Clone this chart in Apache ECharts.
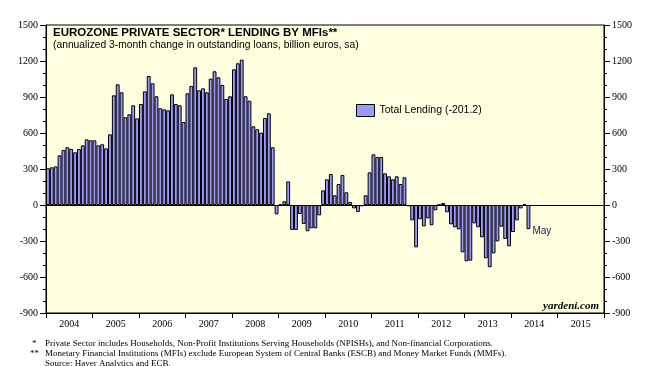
<!DOCTYPE html>
<html>
<head>
<meta charset="utf-8">
<script src="https://cdn.jsdelivr.net/npm/echarts@6/dist/echarts.min.js"></script>
<style>
html,body{margin:0;padding:0;background:#fff;}
#chart{width:656px;height:366px;}
</style>
</head>
<body>
<div id="chart"></div>
<script>
// Year labels on the x axis
var yearLabels = ['2004','2005','2006','2007','2008','2009','2010','2011','2012','2013','2014','2015'];
// Annualized 3-month change in outstanding loans (billion euros), monthly
var lending2004 = [306, 314, 322, 414, 458, 481, 467, 439, 467, 497, 547, 539];
var lending2005 = [539, 497, 506, 472, 589, 914, 1006, 939, 731, 756, 831, 722];
var lending2006 = [842, 947, 1075, 1014, 906, 806, 797, 789, 922, 842, 831, 692];
var lending2007 = [931, 992, 1147, 956, 972, 939, 1053, 1114, 1064, 1000, 883, 906];
var lending2008 = [1131, 1181, 1211, 906, 869, 656, 631, 603, 725, 764, 481, -78];
var lending2009 = [8, 31, 197, -208, -208, -75, -158, -219, -194, -194, -86, 122];
var lending2010 = [214, 258, 81, 175, 250, 106, 25, -28, -58, -11, 81, 272];
var lending2011 = [422, 400, 400, 264, 239, 214, 239, 175, 231, -11, -128, -353];
var lending2012 = [-119, -178, -111, -169, -44, 2, 17, -61, -161, -186, -203, -394];
var lending2013 = [-469, -464, -153, -186, -269, -444, -519, -403, -303, -181, -283, -344];
var lending2014 = [-225, -128, -28, 8, -201.2];
var yTicks = {min: -900, max: 1500, interval: 300};
var seriesName = 'Total Lending (-201.2)';
var lastLabel = 'May';

var values = [].concat(lending2004, lending2005, lending2006, lending2007, lending2008,
  lending2009, lending2010, lending2011, lending2012, lending2013, lending2014);
var months = [];
yearLabels.forEach(function (y) {
  for (var m = 1; m <= 12; m++) months.push(y + '-' + (m < 10 ? '0' + m : m));
});
var lastIdx = values.length - 1;

var serif = '"Liberation Serif", "DejaVu Serif", serif';
var sans = '"Liberation Sans", Arial, sans-serif';

var chart = echarts.init(document.getElementById('chart'), null, {renderer: 'canvas'});
var yAxisCommon = {
  type: 'value', min: yTicks.min, max: yTicks.max, interval: yTicks.interval,
  axisLine: {show: true, lineStyle: {color: '#000', width: 1}},
  axisTick: {show: true, inside: false, length: 6, lineStyle: {color: '#000', width: 1}},
  minorTick: {show: true, splitNumber: 3, length: 3, lineStyle: {color: '#000', width: 1}},
  splitLine: {show: false},
  axisLabel: {color: '#000', fontFamily: serif, fontSize: 10, margin: 8,
              formatter: function (v) { return String(v); }}
};
chart.setOption({
  animation: false,
  backgroundColor: '#ffffff',
  grid: {left: 46, right: 52, top: 25, bottom: 53, show: true, backgroundColor: '#FFFFE0', borderColor: '#000', borderWidth: 1},
  legend: {
    show: true, left: 356, top: 104, padding: 0, itemWidth: 18, itemHeight: 12, itemGap: 6,
    icon: 'rect',
    textStyle: {color: '#000', fontFamily: sans, fontSize: 10.5},
    data: [{name: seriesName, itemStyle: {color: '#9999FF', borderColor: '#000', borderWidth: 1}}]
  },
  xAxis: [
    {type: 'category', data: months, position: 'bottom', boundaryGap: true,
     axisLine: {show: false}, axisTick: {show: false}, axisLabel: {show: false}, splitLine: {show: false}},
    {type: 'category', data: yearLabels, position: 'bottom', boundaryGap: true,
     axisLine: {show: true, onZero: false, lineStyle: {color: '#000'}},
     axisTick: {show: true, inside: false, length: 5, alignWithLabel: false, lineStyle: {color: '#000'}},
     axisLabel: {color: '#000', fontFamily: serif, fontSize: 10, margin: 6},
     splitLine: {show: false}}
  ],
  yAxis: [
    Object.assign({position: 'left'}, yAxisCommon),
    Object.assign({position: 'right'}, yAxisCommon)
  ],
  graphic: [
    {type: 'text', left: 53, top: 27, style: {text: 'EUROZONE PRIVATE SECTOR* LENDING BY MFIs**', fill: '#000', font: 'bold 11.5px ' + sans}},
    {type: 'text', left: 53, top: 40, style: {text: '(annualized 3-month change in outstanding loans, billion euros, sa)', fill: '#000', font: '10.3px ' + sans}},
    {type: 'text', right: 57, top: 301, style: {text: 'yardeni.com', fill: '#000', font: 'italic bold 11px ' + serif}},
    {type: 'text', left: 32, top: 339, style: {text: '*', fill: '#000', font: '9px ' + serif}},
    {type: 'text', left: 45, top: 339, style: {text: 'Private Sector includes Households, Non-Profit Institutions Serving Households (NPISHs), and Non-financial Corporations.', fill: '#000', font: '9px ' + serif}},
    {type: 'text', left: 30, top: 349, style: {text: '**', fill: '#000', font: '9px ' + serif}},
    {type: 'text', left: 45, top: 349, style: {text: 'Monetary Financial Institutions (MFIs) exclude European System of Central Banks (ESCB) and Money Market Funds (MMFs).', fill: '#000', font: '9px ' + serif}},
    {type: 'text', left: 45, top: 359, style: {text: 'Source: Haver Analytics and ECB.', fill: '#000', font: '9px ' + serif}}
  ],
  series: [{
    name: seriesName,
    type: 'bar',
    xAxisIndex: 0, yAxisIndex: 0,
    data: values,
    barCategoryGap: '0%',
    itemStyle: {color: '#9999FF', borderColor: '#000', borderWidth: 1},
    markLine: {
      silent: true, symbol: 'none', label: {show: false},
      lineStyle: {color: '#000', width: 1, type: 'solid'},
      data: [{yAxis: 0}]
    },
    markPoint: {
      symbol: 'circle', symbolSize: 0,
      label: {show: true, position: 'right', distance: 4, offset: [0, 2], formatter: lastLabel,
              color: '#1a1a40', fontFamily: sans, fontSize: 10},
      data: [{coord: [lastIdx, values[lastIdx]]}]
    }
  }]
});
</script>
</body>
</html>
